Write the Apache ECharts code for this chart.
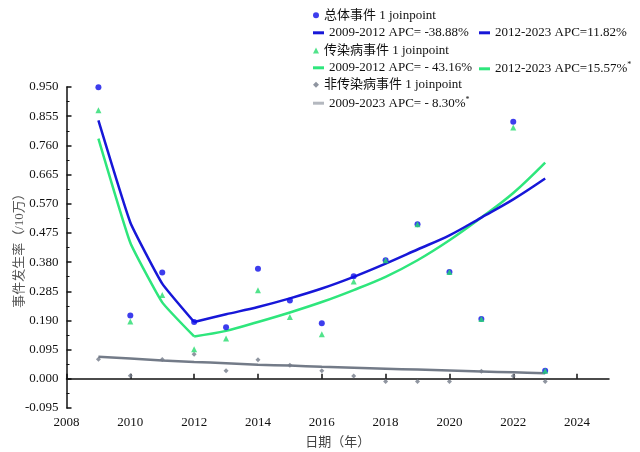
<!DOCTYPE html>
<html><head><meta charset="utf-8">
<script src="https://cdn.jsdelivr.net/npm/echarts@6/dist/echarts.min.js"></script>
<style>html,body{margin:0;padding:0;background:#fff}#c{width:640px;height:452px}</style>
</head><body><div id="c"></div>
<script>
const years = [2009,2010,2011,2012,2013,2014,2015,2016,2017,2018,2019,2020,2021,2022,2023];
const totalVals = [0.949,0.206,0.346,0.185,0.168,0.358,0.255,0.181,0.334,0.386,0.503,0.348,0.195,0.837,0.026];
const infVals = [0.874,0.187,0.273,0.096,0.131,0.288,0.201,0.145,0.317,0.386,0.503,0.348,0.195,0.818,0.026];
const nonInfVals = [0.064,0.010,0.063,0.080,0.026,0.062,0.044,0.026,0.009,-0.009,-0.009,-0.009,0.025,0.009,-0.009];
const seg1Years = [2009,2010,2011,2012];
const seg2Years = [2012,2013,2014,2015,2016,2017,2018,2019,2020,2021,2022,2023];
const totalFit1 = [0.841,0.509,0.310,0.185];
const totalFit2 = [0.185,0.210,0.234,0.262,0.294,0.332,0.375,0.421,0.467,0.525,0.584,0.652];
const infFit1 = [0.782,0.443,0.249,0.138];
const infFit2 = [0.138,0.156,0.185,0.216,0.250,0.289,0.332,0.386,0.451,0.525,0.605,0.704];
const nonInfFit = [0.072,0.066,0.060,0.055,0.051,0.046,0.043,0.039,0.036,0.033,0.030,0.027,0.024,0.021,0.018];
const xTicks = [2008,2010,2012,2014,2016,2018,2020,2022,2024];
const names = {
  total: '总体事件 1 joinpoint',
  t1: '2009-2012 APC= -38.88%',
  t2: '2012-2023 APC=11.82%',
  inf: '传染病事件 1 joinpoint',
  i1: '2009-2012 APC= - 43.16%',
  i2: '2012-2023 APC=15.57%*',
  non: '非传染病事件 1 joinpoint',
  n1: '2009-2023 APC= - 8.30%*'
};
const BLUE = '#0c0ce8', BLUE_LINE = '#1717d8', GREEN = '#2ee67c', GREEN_PT = '#26dc6e', GRAY = '#737b88';
const FONT = "'Liberation Serif','Noto Sans CJK SC',serif";
const pair = (xs, ys) => xs.map((x, i) => [x, ys[i]]);

function leg(name, left, top, icon, w, h, color) {
  return {
    data: [{name: name, icon: icon, itemStyle: {color: color}}],
    left: left, top: top, padding: 0, itemWidth: w, itemHeight: h, itemGap: 0,
    selectedMode: false,
    formatter: n => n.endsWith('*') ? '{t|' + n.slice(0, -1) + '}{s|*}' : '{t|' + n + '}',
    textStyle: {color: '#111', fontFamily: FONT, fontSize: 13,
      rich: {t: {fontFamily: FONT, fontSize: 13, color: '#111'},
             s: {fontFamily: FONT, fontSize: 8, color: '#111', verticalAlign: 'top', padding: [0, 0, 7, 0]}}}
  };
}
const rows = [15.7, 33.3, 51, 68.3, 85.3, 102.7];
const legends = [
  leg(names.total, 313, rows[0] - 7, 'circle', 6, 6, BLUE),
  leg(names.t1, 313, rows[1] - 7, 'rect', 11, 3, BLUE_LINE),
  leg(names.t2, 479, rows[1] - 7, 'rect', 11, 3, BLUE_LINE),
  leg(names.inf, 313, rows[2] - 7, 'triangle', 6, 6, GREEN_PT),
  leg(names.i1, 313, rows[3] - 7, 'rect', 11, 3, GREEN),
  leg(names.i2, 479, rows[3] - 7, 'rect', 11, 3, GREEN),
  leg(names.non, 313, rows[4] - 7, 'diamond', 6, 6, GRAY),
  leg(names.n1, 313, rows[5] - 7, 'rect', 11, 3, '#b4b8bf')
];

const chart = echarts.init(document.getElementById('c'), null, {renderer: 'canvas'});
const lineS = (name, xs, ys, color, z, sm) => ({
  name: name, type: 'line', data: pair(xs, ys), smooth: sm, symbol: 'none',
  lineStyle: {color: color, width: 2.5}, itemStyle: {color: color}, z: z
});
chart.setOption({
  animation: false,
  backgroundColor: '#fff',
  legend: legends,
  grid: {left: 66.5, right: 31, top: 87, bottom: 44, containLabel: false, outerBoundsMode: 'none'},
  xAxis: {
    type: 'value', min: 2008, max: 2025, interval: 1,
    name: '日期（年）', nameLocation: 'middle', nameGap: 28, nameMoveOverlap: false,
    nameTextStyle: {fontFamily: FONT, fontSize: 13, color: '#444'},
    axisLine: {show: true, lineStyle: {color: '#111', width: 1.5}},
    axisTick: {show: true, inside: true, length: 5, customValues: xTicks, lineStyle: {color: '#111', width: 1.5}},
    axisLabel: {customValues: xTicks, formatter: v => String(v), fontFamily: FONT, fontSize: 13, color: '#111', margin: 8},
    splitLine: {show: false}
  },
  yAxis: {
    type: 'value', min: -0.095, max: 0.95, interval: 0.095,
    name: '事件发生率（/10万）', nameLocation: 'middle', nameGap: 40, nameMoveOverlap: false,
    nameTextStyle: {fontFamily: FONT, fontSize: 13, color: '#555'},
    axisLine: {show: true, lineStyle: {color: '#111', width: 1.5}},
    axisTick: {show: true, inside: true, length: 5, lineStyle: {color: '#111', width: 1.5}},
    minorTick: {show: true, splitNumber: 2, length: 3, lineStyle: {color: '#111', width: 1}},
    axisLabel: {formatter: v => v.toFixed(3), fontFamily: FONT, fontSize: 13, color: '#111', margin: 8},
    splitLine: {show: false}
  },
  series: [
    lineS(names.n1, years, nonInfFit, GRAY, 2, 0.3),
    lineS(names.i1, seg1Years, infFit1, GREEN, 3, 0.12),
    lineS(names.i2, seg2Years, infFit2, GREEN, 3, 0.35),
    lineS(names.t1, seg1Years, totalFit1, BLUE_LINE, 4, 0.12),
    lineS(names.t2, seg2Years, totalFit2, BLUE_LINE, 4, 0.35),
    {name: names.non, type: 'scatter', data: pair(years, nonInfVals), symbol: 'diamond', symbolSize: 5, itemStyle: {color: GRAY}, z: 5},
    {name: names.total, type: 'scatter', data: pair(years, totalVals), symbol: 'circle', symbolSize: 6, itemStyle: {color: BLUE}, z: 6},
    {name: names.inf, type: 'scatter', data: pair(years, infVals), symbol: 'triangle', symbolSize: 6, itemStyle: {color: GREEN_PT}, z: 7}
  ]
});
</script></body></html>
